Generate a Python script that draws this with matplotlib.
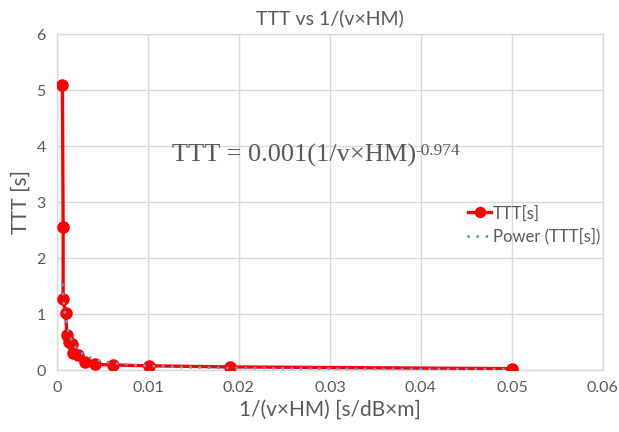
import matplotlib.pyplot as plt
import numpy as np
from matplotlib import transforms

plt.rcParams["font.family"] = ["Lato", "DejaVu Sans"]

# measured TTT against 1/(v x HM)
inv_v_hm = [0.0006, 0.00068, 0.00068, 0.00095, 0.0011, 0.0013, 0.0016,
            0.0018, 0.0023, 0.0031, 0.0042, 0.0062, 0.0101, 0.019, 0.050]
ttt = [5.1, 2.55, 1.26, 1.01, 0.62, 0.5, 0.46,
       0.3, 0.27, 0.15, 0.1, 0.09, 0.075, 0.055, 0.025]

x_ticks = [0, 0.01, 0.02, 0.03, 0.04, 0.05, 0.06]
x_labels = ["0", "0.01", "0.02", "0.03", "0.04", "0.05", "0.06"]
y_ticks = [0, 1, 2, 3, 4, 5, 6]

grey_txt = "#595959"
grid_col = "#D9D9D9"

# power-law trend fitted in log space
b, log_a = np.polyfit(np.log(inv_v_hm), np.log(ttt), 1)
xf = np.linspace(min(inv_v_hm), max(inv_v_hm), 2000)
yf = np.exp(log_a) * xf ** b

fig = plt.figure(figsize=(6.19, 4.32), dpi=100)
ax = fig.add_axes([0.092, 0.1435, 0.882, 0.7775])

ax.plot(inv_v_hm, ttt, color="#FF0000", lw=2.4, marker="o", ms=8,
        label="TTT[s]", zorder=3)
ax.plot(xf, yf, color="#5B9BD5", lw=2.2, ls=(0, (0.01, 3.0)),
        dash_capstyle="round", label="Power (TTT[s])", zorder=4)

ax.set_xlim(0, 0.06)
ax.set_ylim(0, 6)
ax.set_xticks(x_ticks, x_labels)
ax.set_yticks(y_ticks)
ax.tick_params(length=0, labelsize=11.5, colors=grey_txt, pad=8)
ax.grid(True, color=grid_col, lw=1)
ax.set_axisbelow(True)
for s in ax.spines.values():
    s.set_color(grid_col)
    s.set_linewidth(1)

ax.set_title("TTT vs 1/(v×HM)", fontsize=14, color=grey_txt, pad=7)
ax.set_xlabel("1/(v×HM) [s/dB×m]", fontsize=15, color=grey_txt, labelpad=3)
ax.set_ylabel("TTT [s]", fontsize=15, color=grey_txt, labelpad=4)

# trend equation, exponent set as a raised smaller text
eq = ax.text(0.0126, 3.72, "TTT = 0.001(1/v×HM)", family="Liberation Serif",
             fontsize=19, color=grey_txt, ha="left", va="baseline")
fig.canvas.draw()
bb = eq.get_window_extent().transformed(ax.transData.inverted())
sup_tr = transforms.offset_copy(ax.transData, fig=fig, x=0, y=5, units="points")
ax.text(bb.x1, 3.72, "-0.974", family="Liberation Serif",
        fontsize=12.5, color=grey_txt, ha="left", va="baseline",
        transform=sup_tr)

fig.legend(loc="upper left", bbox_to_anchor=(0.732, 0.56), frameon=False,
           fontsize=12, handlelength=1.4, handletextpad=0.1,
           labelspacing=0.4, labelcolor=grey_txt, markerscale=0.9)

fig.savefig("out.png", dpi=100)
